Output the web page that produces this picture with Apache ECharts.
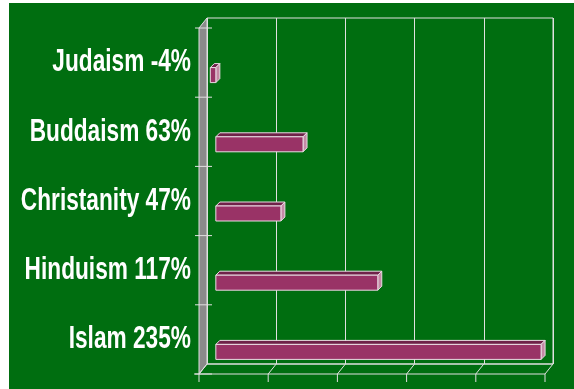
<!DOCTYPE html>
<html>
<head>
<meta charset="utf-8">
<script src="https://cdn.jsdelivr.net/npm/echarts@6/dist/echarts.min.js"></script>
<style>
  html, body { margin: 0; padding: 0; background: #fff; }
  #chart { width: 574px; height: 389px; }
</style>
</head>
<body>
<div id="chart"></div>
<script>
var religions = ['Judaism', 'Buddaism', 'Christanity', 'Hinduism', 'Islam'];
var growth = [-4, 63, 47, 117, 235];
var labels = ['Judaism -4%', 'Buddaism 63%', 'Christanity 47%', 'Hinduism 117%', 'Islam 235%'];
var axisMin = -10, axisMax = 240, axisStep = 50;
var tickValues = [-10, 40, 90, 140, 190, 240];

var green = '#006e10';
var depth = [8, -10];

var myChart = echarts.init(document.getElementById('chart'));

function frameItem(params, api) {
    var cs = params.coordSys;
    var x = cs.x, y = cs.y, w = cs.width, h = cs.height;
    var dx = depth[0], dy = depth[1];
    var kids = [];
    // side wall
    kids.push({
        type: 'polygon',
        shape: { points: [[x, y], [x + dx, y + dy], [x + dx, y + h + dy], [x, y + h]] },
        style: { fill: '#8a8a8a', stroke: '#e0e0e0', lineWidth: 1 }
    });
    // floor edges
    kids.push({ type: 'line', shape: { x1: x - 5, y1: y + h, x2: x + w, y2: y + h },
        style: { stroke: '#e0e0e0', lineWidth: 1 } });
    kids.push({ type: 'line', shape: { x1: x + dx, y1: y + h + dy, x2: x + w + dx, y2: y + h + dy },
        style: { stroke: '#e0e0e0', lineWidth: 1 } });
    tickValues.forEach(function (v) {
        var px = api.coord([v, 0])[0];
        kids.push({ type: 'polyline', shape: { points: [[px, y + h + 8], [px, y + h], [px + dx, y + h + dy]] },
            style: { stroke: '#e0e0e0', lineWidth: 1, fill: null } });
    });
    // category ticks
    var band = h / religions.length;
    for (var i = 0; i <= religions.length; i++) {
        var ty = y + band * i;
        kids.push({ type: 'line', shape: { x1: x - 4, y1: ty, x2: x + 13, y2: ty },
            style: { stroke: '#e0e0e0', lineWidth: 1 } });
    }
    return { type: 'group', children: kids };
}

function barItem(params, api) {
    var idx = api.value(1);
    var p0 = api.coord([0, idx]);
    var p1 = api.coord([api.value(0), idx]);
    var x0 = Math.min(p0[0], p1[0]) + 3;
    var x1 = Math.max(p0[0], p1[0]) + 3;
    var y0 = p0[1] + 5, y1 = p0[1] + 20;
    var d = 4;
    var edge = { stroke: '#eadce4', lineWidth: 1 };
    return {
        type: 'group',
        children: [
            { type: 'polygon', shape: { points: [[x0, y0], [x0 + d, y0 - d], [x1 + d, y0 - d], [x1, y0]] },
              style: Object.assign({ fill: '#6f2249' }, edge) },
            { type: 'polygon', shape: { points: [[x1, y0], [x1 + d, y0 - d], [x1 + d, y1 - d], [x1, y1]] },
              style: Object.assign({ fill: '#c48aa6' }, edge) },
            { type: 'rect', shape: { x: x0, y: y0, width: x1 - x0, height: y1 - y0 },
              style: Object.assign({ fill: '#993366' }, edge) }
        ]
    };
}

function labelItem(params, api) {
    var idx = api.value(0);
    var p = api.coord([axisMin, idx]);
    return {
        type: 'text',
        x: p[0] - 8,
        y: p[1],
        scaleX: 0.84,
        scaleY: 1.17,
        style: {
            text: labels[idx],
            fill: '#ffffff',
            font: 'bold 27px "Liberation Sans", Arial, sans-serif',
            align: 'right',
            verticalAlign: 'middle'
        }
    };
}

option = {
    backgroundColor: green,
    animation: false,
    grid: [
        { left: 207, right: 21, top: 18, bottom: 25, show: true, borderColor: '#e0e0e0', borderWidth: 1 },
        { left: 199, right: 29, top: 28, bottom: 15 }
    ],
    xAxis: [
        { gridIndex: 0, type: 'value', min: axisMin, max: axisMax, interval: axisStep,
          axisLine: { show: false }, axisTick: { show: false }, axisLabel: { show: false },
          splitLine: { show: true, lineStyle: { color: '#e0e0e0', width: 1 } } },
        { gridIndex: 1, type: 'value', min: axisMin, max: axisMax, interval: axisStep,
          axisLine: { show: false }, axisTick: { show: false }, axisLabel: { show: false },
          splitLine: { show: false } }
    ],
    yAxis: [
        { gridIndex: 0, type: 'category', data: religions, inverse: true,
          axisLine: { show: false }, axisTick: { show: false }, axisLabel: { show: false } },
        { gridIndex: 1, type: 'category', data: religions, inverse: true,
          axisLine: { show: false }, axisTick: { show: false }, axisLabel: { show: false } }
    ],
    graphic: [
        { type: 'rect', shape: { x: 0, y: 0, width: 574, height: 3 }, style: { fill: '#ffffff' }, z: 100 },
        { type: 'rect', shape: { x: 0, y: 0, width: 9, height: 389 }, style: { fill: '#ffffff' }, z: 100 }
    ],
    series: [
        { type: 'custom', name: 'frame', xAxisIndex: 1, yAxisIndex: 1, renderItem: frameItem,
          data: [[0, 0]], silent: true, z: 1 },
        { type: 'custom', name: 'growth', xAxisIndex: 1, yAxisIndex: 1, renderItem: barItem,
          data: growth.map(function (v, i) { return [v, i]; }), z: 3 },
        { type: 'custom', name: 'labels', xAxisIndex: 1, yAxisIndex: 1, renderItem: labelItem,
          data: religions.map(function (r, i) { return [i]; }), silent: true, z: 4 }
    ]
};
myChart.setOption(option);
</script>
</body>
</html>
